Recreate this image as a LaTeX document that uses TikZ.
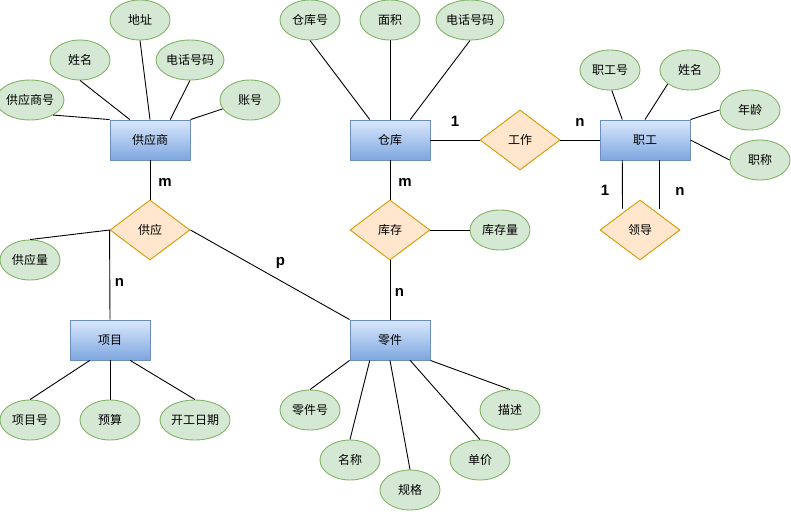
\documentclass[tikz,border=0pt]{standalone}
\usepackage{fontspec}
\newfontfamily\cjk{Noto Sans CJK SC}
\newfontfamily\labfont{Liberation Sans}
\usetikzlibrary{shapes.geometric,calc}
\definecolor{attrfill}{HTML}{D5E8D4}
\definecolor{attrline}{HTML}{82B366}
\definecolor{relfill}{HTML}{FFE6CC}
\definecolor{relline}{HTML}{D79B00}
\definecolor{enttop}{HTML}{DAE8FC}
\definecolor{entbot}{HTML}{7EA6E0}
\definecolor{entline}{HTML}{6C8EBF}
\tikzset{
  attr/.style={ellipse, draw=attrline, fill=attrfill, line width=0.9pt, minimum width=60pt, minimum height=40pt, inner sep=0pt, font=\cjk\fontsize{12}{12}\selectfont},
  ent/.style={rectangle, draw=entline, top color=enttop, bottom color=entbot, line width=0.9pt, minimum width=80pt, minimum height=40pt, inner sep=0pt, font=\cjk\fontsize{12}{12}\selectfont},
  rel/.style={diamond, aspect=1.3333, draw=relline, fill=relfill, line width=0.9pt, minimum width=80pt, minimum height=60pt, inner sep=0pt, font=\cjk\fontsize{12}{12}\selectfont},
  card/.style={anchor=base, inner sep=0pt, font=\labfont\bfseries\fontsize{15}{15}\selectfont},
  conn/.style={draw=black, line width=0.9pt},
}
\begin{document}
\begin{tikzpicture}[x=1pt,y=-1pt]
\useasboundingbox (0,0) rectangle (791,511);
% entities
\node[ent] (gys) at (150,140) {供应商};
\node[ent] (ck) at (390,140) {仓库};
\node[ent, minimum width=90pt] (zg) at (645,140) {职工};
\node[ent] (xm) at (110,340) {项目};
\node[ent] (lj) at (390,340) {零件};
% relationships
\node[rel] (gy) at (150,230) {供应};
\node[rel] (kc) at (390,230) {库存};
\node[rel] (gz) at (520,140) {工作};
\node[rel] (ld) at (640,230) {领导};
% attributes of 供应商
\node[attr] (gysh) at (30,100) {供应商号};
\node[attr] (gxm) at (80,60) {姓名};
\node[attr] (gdz) at (140,20) {地址};
\node[attr] (gdh) at (190,60) {电话号码};
\node[attr] (gzh) at (250,100) {账号};
% attributes of 仓库
\node[attr] (ckh) at (310,20) {仓库号};
\node[attr] (cmj) at (390,20) {面积};
\node[attr] (cdh) at (470,20) {电话号码};
% attributes of 职工
\node[attr] (zgh) at (610,70) {职工号};
\node[attr] (zxm) at (690,70) {姓名};
\node[attr] (znl) at (750,110) {年龄};
\node[attr] (zzc) at (760,160) {职称};
% other attributes
\node[attr] (gyl) at (30,260) {供应量};
\node[attr] (kcl) at (500,230) {库存量};
\node[attr] (xmh) at (30,420) {项目号};
\node[attr] (xys) at (110,420) {预算};
\node[attr, minimum width=70pt] (xrq) at (195,420) {开工日期};
\node[attr] (ljh) at (310,410) {零件号};
\node[attr] (lmc) at (350,460) {名称};
\node[attr] (lgg) at (410,490) {规格};
\node[attr] (ldj) at (480,460) {单价};
\node[attr] (lms) at (510,410) {描述};
% attribute links
\draw[conn] (gysh.-33) -- (gys.north west);
\draw[conn] (gxm.south) -- ($(gys.north west)!0.25!(gys.north east)$);
\draw[conn] (gdz.south) -- (gys.north);
\draw[conn] (gdh.south) -- ($(gys.north west)!0.75!(gys.north east)$);
\draw[conn] (gzh.-162) -- (gys.north east);
\draw[conn] (ckh.south) -- ($(ck.north west)!0.25!(ck.north east)$);
\draw[conn] (cmj.south) -- (ck.north);
\draw[conn] (cdh.south) -- ($(ck.north west)!0.75!(ck.north east)$);
\draw[conn] (zgh.-85) -- ($(zg.north west)!0.25!(zg.north east)$);
\draw[conn] (zxm.-148) -- (zg.north);
\draw[conn] (znl.west) -- (zg.north east);
\draw[conn] (zzc.west) -- (zg.east);
\draw[conn] (xmh.north) -- ($(xm.south west)!0.25!(xm.south east)$);
\draw[conn] (xys.north) -- (xm.south);
\draw[conn] (xrq.north) -- ($(xm.south west)!0.75!(xm.south east)$);
\draw[conn] (ljh.north) -- (lj.south west);
\draw[conn] (lmc.north) -- ($(lj.south west)!0.25!(lj.south east)$);
\draw[conn] (lgg.north) -- (lj.south);
\draw[conn] (ldj.north) -- ($(lj.south west)!0.75!(lj.south east)$);
\draw[conn] (lms.north) -- (lj.south east);
\draw[conn] (gyl.north) -- (gy.west);
\draw[conn] (kc.east) -- (kcl.west);
% relationship links
\draw[conn] (gys.south) -- (gy.north);
\draw[conn] (gy.west) -- (xm.north);
\draw[conn] (gy.east) -- (lj.north west);
\draw[conn] (ck.south) -- (kc.north);
\draw[conn] (kc.south) -- (lj.north);
\draw[conn] (ck.east) -- (gz.west);
\draw[conn] (gz.east) -- (zg.west);
\coordinate (ldl) at (622.5,208.5);
\coordinate (ldr) at (659.5,208.5);
\draw[conn] ($(zg.south west)!0.25!(zg.south east)$) -- (ldl);
\draw[conn] (zg.south west -| ldr) -- (ldr);
% cardinalities
\node[card] (c1) at (165,186) {m};
\node[card] (c2) at (405,186) {m};
\node[card] (c3) at (119.5,286) {n};
\node[card] (c4) at (280.5,265) {p};
\node[card] (c5) at (399.5,296) {n};
\node[card] (c6) at (455,126) {1};
\node[card] (c7) at (580,126) {n};
\node[card] (c8) at (605,195) {1};
\node[card] (c9) at (680,195) {n};
\end{tikzpicture}
\end{document}
